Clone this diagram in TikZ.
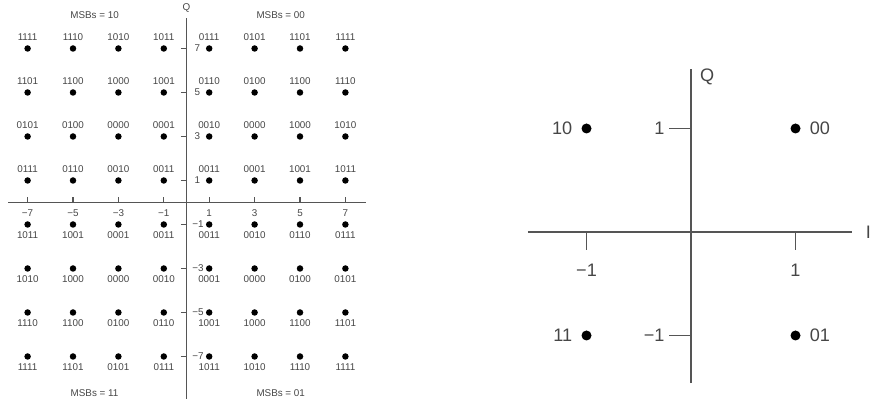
\documentclass[tikz,border=0pt]{standalone}
\usepackage{fontspec}
\setmainfont{Liberation Sans}
\usepackage{tikz}

\begin{document}
\begin{tikzpicture}[x=1cm,y=1cm]
  \definecolor{caxis}{RGB}{85,85,85}
  \definecolor{ctxt}{RGB}{70,70,70}
  \useasboundingbox (0,0) rectangle (17.44,7.98);
  \begin{scope}[shift={(3.73,3.93)},x=0.454cm,y=0.44cm,font=\fontsize{5.6}{6.5}\selectfont,text=ctxt]
    \draw[caxis,line width=0.85pt] (-7.86,0) -- (7.91,0);
    \draw[caxis,line width=0.85pt] (0,-8.93) -- (0,8.39);
    \node (qa) at (0,8.84) {Q};
    \node (msbA) at (-4.05,8.52) {MSBs = 10};
    \node (msbB) at (4.15,8.52) {MSBs = 00};
    \node (msbC) at (-4.05,-8.66) {MSBs = 11};
    \node (msbD) at (4.15,-8.66) {MSBs = 01};
    \foreach \v in {1,3,5,7}{%
      \draw[caxis,line width=0.6pt] (\v,0) -- (\v,0.27);
      \draw[caxis,line width=0.6pt] (-\v,0) -- (-\v,0.27);
      \node (ip\v) at (\v,-0.48) {\v};
      \node (im\v) at (-\v,-0.48) {−\v};
      \draw[caxis,line width=0.6pt] (-0.25,\v) -- (0,\v);
      \draw[caxis,line width=0.6pt] (-0.25,-\v) -- (0,-\v);
      \node[right,inner sep=0.5pt] (qp\v) at (0.3,\v) {\v};
      \node[right,inner sep=0.5pt] (qm\v) at (0.2,-\v) {−\v};
    }
    \foreach \xo/\yy/\row in {-9/7/{1111,1110,1010,1011},-9/5/{1101,1100,1000,1001},
        -9/3/{0101,0100,0000,0001},-9/1/{0111,0110,0010,0011},
        -1/7/{0111,0101,1101,1111},-1/5/{0110,0100,1100,1110},
        -1/3/{0010,0000,1000,1010},-1/1/{0011,0001,1001,1011},
        -9/-1/{1011,1001,0001,0011},-9/-3/{1010,1000,0000,0010},
        -9/-5/{1110,1100,0100,0110},-9/-7/{1111,1101,0101,0111},
        -1/-1/{0011,0010,0110,0111},-1/-3/{0001,0000,0100,0101},
        -1/-5/{1001,1000,1100,1101},-1/-7/{1011,1010,1110,1111}}{%
      \foreach \lab [count=\k] in \row {%
        \pgfmathtruncatemacro\xx{2*\k+\xo}
        \pgfmathsetmacro\ly{\yy>0 ? \yy+0.52 : \yy-0.5}
        \fill (\xx,\yy) circle (0.065cm);
        \node (s\xx\yy) at (\xx,\ly) {\lab};
      }
    }
  \end{scope}
  \begin{scope}[shift={(13.82,3.34)},x=2.09cm,y=2.07cm,font=\fontsize{10.3}{12}\selectfont,text=ctxt]
    \draw[caxis,line width=1.1pt] (-1.56,0) -- (1.54,0);
    \draw[caxis,line width=1.1pt] (0,-1.46) -- (0,1.57);
    \node (qb) at (0.155,1.5) {Q};
    \node[left,inner sep=0pt] (ib) at (1.725,0) {I};
    \foreach \v/\t in {1/1,-1/−1}{%
      \draw[caxis,line width=0.9pt] (\v,0) -- (\v,-0.17);
      \node (ix\t) at (\v,-0.37) {\t};
      \draw[caxis,line width=0.9pt] (-0.21,\v) -- (0,\v);
      \node[left,inner sep=0pt] (qy\t) at (-0.25,\v) {\t};
    }
    \foreach \px/\py/\lab/\pos in {-1/1/10/left,1/1/00/right,-1/-1/11/left,1/-1/01/right}{%
      \fill (\px,\py) circle (0.1cm);
      \node[\pos=0.28cm,inner sep=0pt] (d\lab) at (\px,\py) {\lab};
    }
  \end{scope}
\end{tikzpicture}
\end{document}
